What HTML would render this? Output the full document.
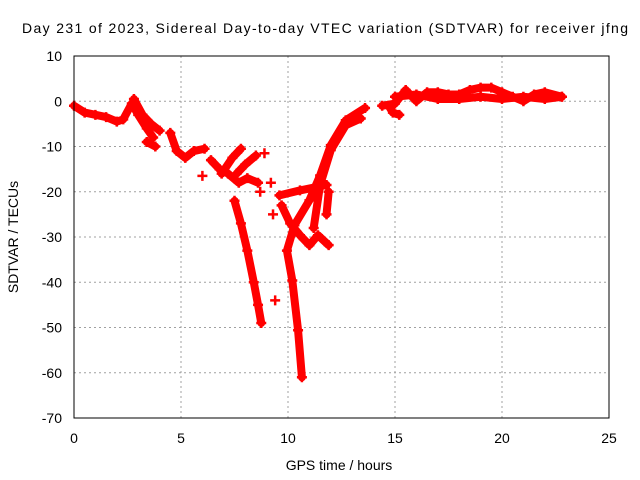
<!DOCTYPE html>
<html><head><meta charset="utf-8"><style>
body{margin:0;background:#fff}
svg{display:block;font-family:"Liberation Sans",sans-serif}
</style></head><body>
<svg id="chart" width="640" height="480">
<text x="22" y="33" font-size="14" textLength="606" lengthAdjust="spacing">Day 231 of 2023, Sidereal Day-to-day VTEC variation (SDTVAR) for receiver jfng</text>
<text x="339" y="470" font-size="14" text-anchor="middle">GPS time / hours</text>
<text x="18" y="237" font-size="14" text-anchor="middle" transform="rotate(-90 18 237)">SDTVAR / TECUs</text>
<g id="grid"></g><g id="ticks"></g><g id="marks"></g>
<rect x="74" y="56" width="535" height="362" fill="none" stroke="#000" stroke-width="1"/>
</svg>
<script>
const xTicks=[0,5,10,15,20,25];
const yTicks=[10,0,-10,-20,-30,-40,-50,-60,-70];
const tracks=[
[[0,-1],[0.5,-2.5],[1,-3],[1.5,-3.5],[2,-4.5],[2.3,-4],[2.7,-0.5],[3.0,-3],[3.4,-6],[3.7,-8]],
[[2.8,0.5],[3.2,-3],[3.6,-5],[4.0,-6.5]],
[[3.4,-9],[3.8,-10]],
[[4.5,-7],[4.8,-11],[5.2,-12.5],[5.6,-11],[6.1,-10.5]],
[[6,-16.5]],
[[6.4,-13],[6.8,-15],[7.2,-16],[7.7,-18],[8.1,-17],[8.6,-18]],
[[6.9,-16],[7.4,-12.5],[7.8,-10.5]],
[[7.6,-16],[8.0,-14],[8.5,-12]],
[[8.9,-11.5]],[[8.7,-20]],[[9.2,-18]],[[9.3,-25]],
[[7.5,-22],[7.8,-27],[8.1,-33],[8.4,-40],[8.6,-45],[8.75,-49]],
[[9.4,-44]],
[[9.7,-23],[10.1,-27],[10.56,-29.6],[11.0,-31.8],[11.4,-29.6],[11.9,-31.8]],
[[10.65,-61],[10.47,-50.6],[10.2,-39.6],[9.95,-33],[10.3,-27.4],[11.0,-21.9],[11.5,-16.4],[12.0,-9.7],[12.7,-4.2],[13.6,-1.5]],
[[9.6,-20.8],[10.56,-19.7],[11.3,-19],[11.8,-18.5]],
[[11.2,-28],[11.5,-18.5],[12,-10.8],[12.7,-5.3],[13.4,-3.8]],
[[11.8,-25],[11.9,-20]],
[[14.4,-1],[15,-0.5],[15.5,2.5],[16,0],[16.5,2],[17,2],[17.5,1.5],[18,1.5],[18.5,2.5],[19,3],[19.5,3],[20,2],[20.5,1],[21,0],[21.5,1.5],[22,2],[22.8,1]],
[[15,1],[16,1.5],[17,0.5],[18,0.5],[19,1],[20,0.5],[21,1],[22,0.5],[22.8,1]],
[[14.7,-1],[14.9,-2.5],[15.2,-3]]
];
const X=v=>74+v*535/25, Y=v=>56+(10-v)*362/80;
const NS='http://www.w3.org/2000/svg';
const grid=document.getElementById('grid'),ticks=document.getElementById('ticks'),marks=document.getElementById('marks');
function mk(tag,attrs,parent){const e=document.createElementNS(NS,tag);for(const k in attrs)e.setAttribute(k,attrs[k]);parent.appendChild(e);return e;}
xTicks.forEach(t=>{const x=X(t);
 if(t>0&&t<25){const g=mk('line',{x1:x,x2:x,y1:56,y2:418,stroke:'#a0a0a0','stroke-dasharray':'2,3'},grid);
 
 }
 const l=mk('text',{x:x,y:443,'font-size':14,'text-anchor':'middle'},ticks);l.textContent=t;
 
 
});
yTicks.forEach(t=>{const y=Y(t);
 if(t<10&&t>-70){const g=mk('line',{x1:74,x2:609,y1:y,y2:y,stroke:'#a0a0a0','stroke-dasharray':'2,3'},grid);
 
 }
 const l=mk('text',{x:62,y:y+5,'font-size':14,'text-anchor':'end'},ticks);l.textContent=t;
 
 
});
tracks.forEach(tr=>{
 const g=mk('g',{},marks);
 
 
 if(tr.length>1){const p=mk('polyline',{points:tr.map(d=>X(d[0])+','+Y(d[1])).join(' '),fill:'none',stroke:'#f00','stroke-width':8,'stroke-linejoin':'round','stroke-linecap':'round'},g);
 
 }
 tr.forEach(d=>{const x=X(d[0]),y=Y(d[1]);
  const m=mk('path',{d:`M${x-5},${y}H${x+5}M${x},${y-5}V${y+5}`,stroke:'#f00','stroke-width':2.5},g);
  
  
 });
});
</script>
</body></html>
